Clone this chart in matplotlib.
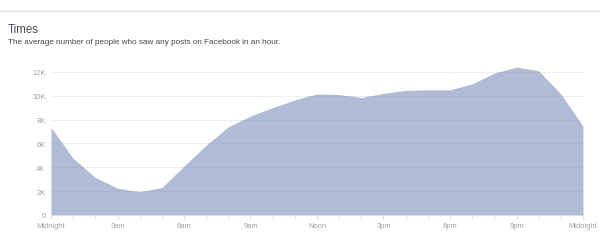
import matplotlib
matplotlib.use("Agg")
import matplotlib.pyplot as plt
from matplotlib.ticker import FixedLocator

hours = list(range(25))
viewers = [7350, 4750, 3150, 2250, 1950, 2300, 4100, 5850, 7400, 8300, 9000, 9650,
           10150, 10100, 9850, 10200, 10450, 10500, 10500, 11000, 11900, 12400,
           12100, 10150, 7450]
y_ticks = [0, 2000, 4000, 6000, 8000, 10000, 12000]
y_labels = ["0", "2K", "4K", "6K", "8K", "10K", "12K"]
x_ticks = [0, 3, 6, 9, 12, 15, 18, 21, 24]
x_labels = ["Midnight", "3am", "6am", "9am", "Noon", "3pm", "6pm", "9pm", "Midnight"]

plt.rcParams['font.family'] = ['Liberation Sans', 'DejaVu Sans']

fig = plt.figure(figsize=(6.0, 2.51), dpi=100)
fig.patch.set_facecolor("white")

fig.add_artist(plt.Line2D([0, 1], [1 - 12/251, 1 - 12/251], color="#e3e3e3", lw=1.0))
fig.text(8/600, 1 - 30/251, "Times", fontsize=8.3, color="#4b4f56", va="center", ha="left")
fig.text(8/600, 1 - 42.5/251, "The average number of people who saw any posts on Facebook in an hour.",
         fontsize=5.9, color="#44474d", va="center", ha="left")

ax = fig.add_axes([51/600, 1 - 216/251, 532/600, (216 - 61)/251])
poly = ax.fill_between(hours, viewers, 0, color="#b0bcd6", lw=0, zorder=1)
clip_path = poly.get_paths()[0]
for yt in y_ticks[1:]:
    ax.axhline(yt, color="#eeeeee", lw=0.8, zorder=0)
    inner = ax.axhline(yt, color="#9eaac6", lw=0.7, zorder=2, alpha=0.35)
    inner.set_clip_path(clip_path, ax.transData)
ax.set_xlim(0, 24)
ax.set_ylim(0, 13000)
ax.set_yticks(y_ticks)
ax.set_yticklabels(y_labels)
ax.set_xticks(x_ticks)
ax.set_xticklabels(x_labels)
ax.xaxis.set_minor_locator(FixedLocator(hours))
for s in ["top", "right", "left"]:
    ax.spines[s].set_visible(False)
ax.spines["bottom"].set_color("#dddddd")
ax.spines["bottom"].set_linewidth(0.8)
ax.tick_params(axis="y", length=0, labelsize=5.4, labelcolor="#a0a0a0", pad=4)
ax.tick_params(axis="x", which="major", length=3, color="#dddddd", labelsize=5.4,
               labelcolor="#a0a0a0", pad=2)
ax.tick_params(axis="x", which="minor", length=3, color="#dddddd")
ax.set_facecolor("white")

fig.savefig("out.png", dpi=100)
